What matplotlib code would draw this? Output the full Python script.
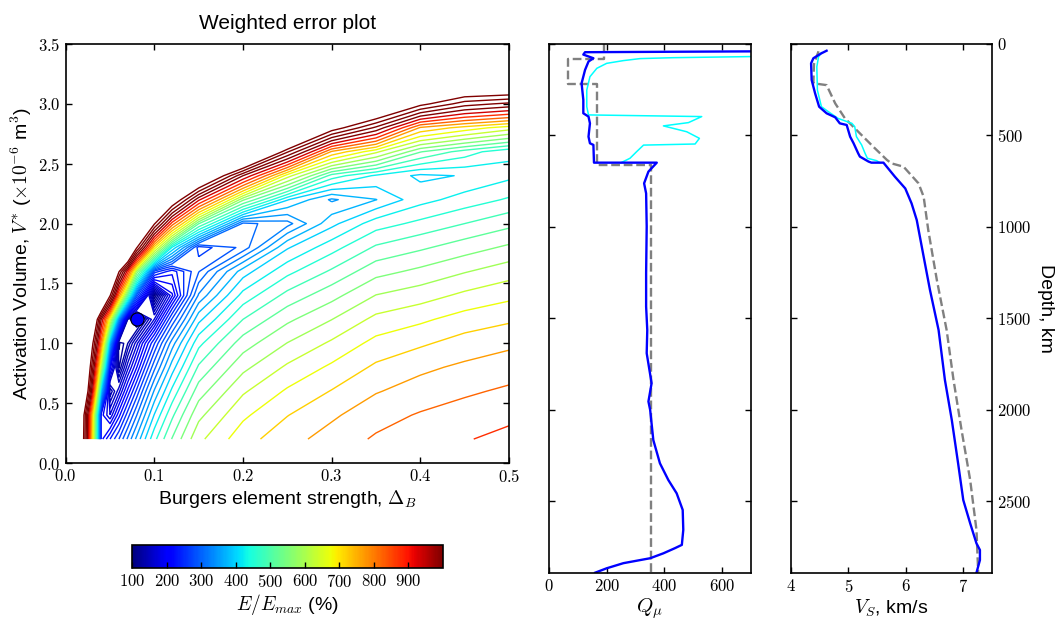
import numpy as np
import matplotlib
matplotlib.use('Agg')
import matplotlib.pyplot as plt
from matplotlib.colors import Normalize
from matplotlib.cm import ScalarMappable
from matplotlib.ticker import FuncFormatter

plt.rcParams['font.family'] = ['Liberation Sans', 'DejaVu Sans']
plt.rcParams['mathtext.fontset'] = 'cm'

# grid of the error search (Burgers strength x activation volume)
delta_b = [0.02, 0.03, 0.04, 0.05, 0.06, 0.07, 0.08, 0.10, 0.12, 0.15,
           0.20, 0.25, 0.30, 0.35, 0.40, 0.45, 0.50]
act_vol = [0.2, 0.4, 0.6, 0.8, 1.0, 1.2, 1.4, 1.6, 1.8, 2.0, 2.2, 2.4, 2.6, 2.8, 3.0, 3.2, 3.4]

# weighted error E/Emin (%), one row per activation volume
err = [
    [1230, 700, 200, 235, 268, 310, 355, 445, 520, 620, 700, 750, 790, 828, 850, 872, 895],
    [1250, 720, 200, 170, 215, 260, 305, 400, 478, 580, 665, 718, 760, 800, 826, 845, 862],
    [1500, 950, 380, 130, 165, 210, 255, 352, 432, 535, 625, 680, 722, 765, 790, 812, 830],
    [1600, 1100, 600, 200, 120, 165, 205, 300, 385, 490, 580, 638, 682, 728, 758, 778, 795],
    [1800, 1250, 800, 350, 112, 130, 165, 250, 338, 445, 535, 592, 638, 688, 712, 740, 758],
    [2000, 1500, 1000, 650, 330, 130, 101, 170, 270, 390, 485, 545, 590, 642, 665, 693, 712],
    [2500, 2100, 1700, 1230, 800, 500, 280, 105, 190, 330, 435, 495, 540, 592, 612, 640, 662],
    [3000, 2600, 2200, 1700, 1230, 900, 580, 260, 225, 285, 385, 445, 490, 540, 562, 588, 612],
    [3500, 3000, 2600, 2200, 2000, 1700, 1230, 700, 420, 258, 292, 395, 442, 490, 512, 536, 560],
    [4000, 3500, 3000, 2700, 2400, 2100, 1800, 1230, 850, 520, 300, 318, 390, 440, 462, 485, 508],
    [4500, 4000, 3500, 3200, 2900, 2600, 2300, 1900, 1350, 950, 560, 400, 345, 372, 415, 437, 458],
    [5000, 4500, 4000, 3700, 3400, 3100, 2800, 2400, 2000, 1500, 1000, 650, 470, 420, 392, 400, 418],
    [5000, 5000, 4500, 4200, 3900, 3600, 3300, 3000, 2600, 2200, 1700, 1150, 760, 640, 520, 470, 430],
    [5000, 5000, 5000, 4700, 4400, 4100, 3800, 3500, 3100, 2600, 2200, 1800, 1280, 1050, 760, 700, 650],
    [5000, 5000, 5000, 5000, 5000, 5000, 5000, 4000, 3600, 3100, 2700, 2300, 1900, 1500, 1250, 1100, 1050],
    [5000, 5000, 5000, 5000, 5000, 5000, 5000, 4500, 4100, 3600, 3200, 2800, 2500, 2300, 2000, 1500, 1500],
    [5000, 5000, 5000, 5000, 5000, 5000, 5000, 5000, 5000, 5000, 4000, 3600, 3200, 2900, 2600, 2300, 2100],
]
best_fit = (0.08, 1.2)

# Q_mu profiles
q_ref_depth = [0, 80, 80, 220, 220, 660, 660, 2891]
q_ref = [190, 190, 67, 67, 165, 165, 354, 354]

q_cyan_depth = [55, 69, 75, 80, 91, 106, 133, 179, 252, 343, 388, 397, 430, 448, 480,
                516, 547, 553, 589, 625, 643, 649]
q_cyan = [900, 700, 431, 316, 258, 200, 166, 142, 131, 131, 137, 530, 484, 397, 478,
          522, 507, 328, 304, 281, 258, 250]

q_blue_depth = [40, 45, 58, 78, 96, 142, 215, 306, 379, 397, 434, 507, 543, 552, 649, 649,
                698, 762, 817, 999, 1254, 1436, 1564, 1691, 1855, 1955, 2001, 2166, 2293,
                2384, 2457, 2548, 2657, 2739, 2757, 2785, 2812, 2839, 2867, 2891]
q_blue = [760, 125, 119, 154, 137, 125, 113, 119, 119, 137, 142, 137, 142, 154, 156, 374,
          345, 330, 337, 339, 337, 337, 341, 339, 356, 345, 351, 362, 385,
          414, 443, 464, 466, 461, 437, 397, 351, 258, 200, 160]

# V_S profiles
vs_ref_depth = [40, 110, 215, 225, 325, 407, 470, 561, 634, 653, 671, 762, 835, 1017,
                1291, 1564, 1837, 2111, 2384, 2658, 2891]
vs_ref = [4.48, 4.40, 4.39, 4.62, 4.77, 4.94, 5.14, 5.43, 5.67, 5.75, 5.96, 6.22, 6.31, 6.39,
          6.54, 6.71, 6.83, 6.97, 7.12, 7.23, 7.26]

vs_cyan_depth = [48, 70, 125, 252, 343, 370, 407, 434, 452, 507, 552, 598, 625, 638, 649]
vs_cyan = [4.53, 4.48, 4.45, 4.46, 4.53, 4.65, 4.82, 5.06, 5.11, 5.14, 5.23, 5.29, 5.33, 5.49, 5.55]

vs_blue_depth = [37, 51, 78, 106, 197, 270, 343, 379, 401, 434, 443, 507, 543, 598, 616, 643,
                 649, 649, 726, 790, 872, 963, 1163, 1345, 1564, 1837, 2056, 2293, 2494,
                 2621, 2731, 2767, 2822, 2891]
vs_blue = [4.62, 4.53, 4.39, 4.35, 4.36, 4.42, 4.49, 4.62, 4.77, 4.85, 4.97, 5.03, 5.09, 5.17,
           5.20, 5.35, 5.40, 5.61, 5.81, 5.99, 6.10, 6.19, 6.31, 6.42, 6.57, 6.68, 6.80, 6.91,
           7.00, 7.12, 7.23, 7.29, 7.29, 7.23]

cmb_depth = 2891
# log-spaced contour levels; the few above 1000 saturate to dark red
levels = np.logspace(2, 3 + 3 / 35, 39)
norm = Normalize(vmin=100, vmax=1000)


def cm_fmt(fmt):
    return FuncFormatter(lambda v, p: '$' + format(v, fmt) + '$')


def style_ticks(ax):
    ax.tick_params(direction='in', length=4, width=1, top=True, right=True, labelsize=12)
    for sp in ax.spines.values():
        sp.set_linewidth(1.2)


fig = plt.figure(figsize=(10.63, 6.21), dpi=100)

# contour panel
ax1 = fig.add_axes([0.0618, 0.2544, 0.417, 0.6747])
ax1.contour(delta_b, act_vol, err, levels=levels, cmap='jet', norm=norm, linewidths=1.0)
ax1.plot(best_fit[0], best_fit[1], 'o', color='#0000ff', markeredgecolor='black',
         markeredgewidth=0.8, markersize=9.5, zorder=10)
ax1.set_xlim(0, 0.5)
ax1.set_ylim(0, 3.5)
ax1.set_xticks(np.arange(0, 0.51, 0.1))
ax1.set_yticks(np.arange(0, 3.51, 0.5))
ax1.xaxis.set_major_formatter(cm_fmt('.1f'))
ax1.yaxis.set_major_formatter(cm_fmt('.1f'))
style_ticks(ax1)
ax1.set_title('Weighted error plot', fontsize=15, pad=11)
ax1.set_xlabel(r'Burgers element strength, $\Delta_B$', fontsize=14, labelpad=2)
ax1.set_ylabel(r'Activation Volume, $V^{*}$ ($\times10^{-6}$ m$^3$)', fontsize=14, labelpad=3)

# colorbar
cax = fig.add_axes([0.1245, 0.0858, 0.292, 0.0361])
cb = fig.colorbar(ScalarMappable(norm=norm, cmap='jet'), cax=cax, orientation='horizontal',
                  ticks=np.arange(100, 1000, 100))
cb.ax.xaxis.set_major_formatter(cm_fmt('.0f'))
cb.ax.tick_params(direction='in', length=4, width=1, labelsize=12)
cb.outline.set_linewidth(1.2)
cb.set_label(r'$E/E_{max}$ (%)', fontsize=14, labelpad=2)

# Q profile
ax2 = fig.add_axes([0.5165, 0.0778, 0.1897, 0.8514])
ax2.plot(q_ref, q_ref_depth, '--', color='gray', lw=1.7)
ax2.plot(q_cyan, q_cyan_depth, color='cyan', lw=1.1)
ax2.plot(q_blue, q_blue_depth, color='blue', lw=1.7)
ax2.set_xlim(0, 700)
ax2.set_ylim(cmb_depth, 0)
ax2.set_xticks([0, 200, 400, 600])
ax2.set_yticks([0, 500, 1000, 1500, 2000, 2500])
ax2.xaxis.set_major_formatter(cm_fmt('.0f'))
style_ticks(ax2)
ax2.tick_params(labelleft=False)
ax2.set_xlabel(r'$Q_\mu$', fontsize=15, labelpad=2)

# Vs profile
ax3 = fig.add_axes([0.7441, 0.0778, 0.1891, 0.8514])
ax3.plot(vs_ref, vs_ref_depth, '--', color='gray', lw=1.7)
ax3.plot(vs_cyan, vs_cyan_depth, color='cyan', lw=1.1)
ax3.plot(vs_blue, vs_blue_depth, color='blue', lw=1.7)
ax3.set_xlim(4, 7.5)
ax3.set_ylim(cmb_depth, 0)
ax3.set_xticks([4, 5, 6, 7])
ax3.set_yticks([0, 500, 1000, 1500, 2000, 2500])
ax3.xaxis.set_major_formatter(cm_fmt('.0f'))
ax3.yaxis.set_major_formatter(cm_fmt('.0f'))
style_ticks(ax3)
ax3.tick_params(labelleft=False, labelright=True)
ax3.set_xlabel(r'$V_S$, km/s', fontsize=14, labelpad=2)
ax3.yaxis.set_label_position('right')
ax3.set_ylabel('Depth, km', fontsize=14, rotation=270, labelpad=16)

plt.savefig('out.png', dpi=100)
plt.close()
